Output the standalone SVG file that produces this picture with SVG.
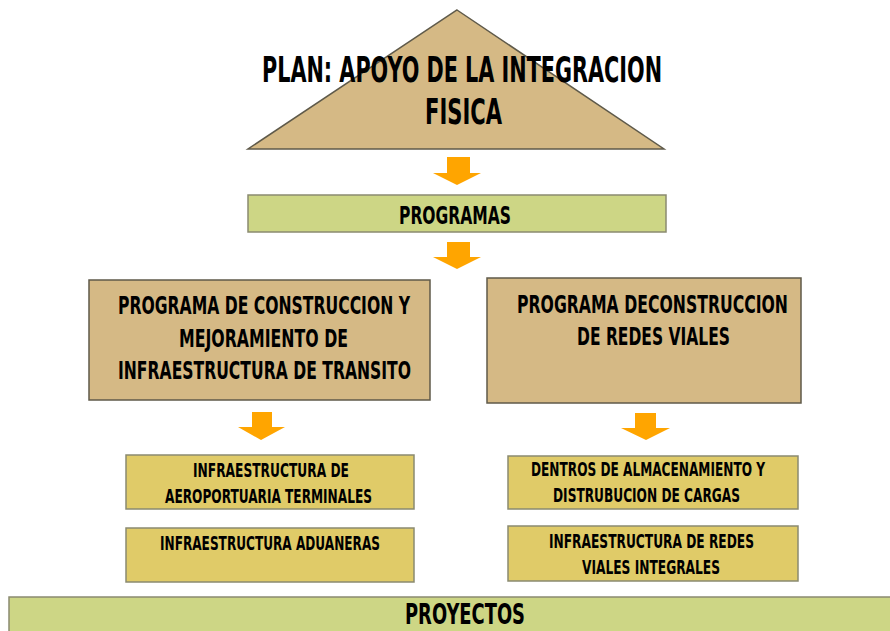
<svg xmlns="http://www.w3.org/2000/svg" width="890" height="631" viewBox="0 0 890 631">
<style>
.t{font-family:"DejaVu Sans Condensed","DejaVu Sans","Liberation Sans",sans-serif;font-weight:bold;fill:#000}
.tan{fill:#d5b985;stroke:#5f5a4a;stroke-width:1.5}
.grn{fill:#cdd685;stroke:#8a8a70;stroke-width:1.5}
.yel{fill:#e0cb68;stroke:#8a8a70;stroke-width:1.5}
.arr{fill:#ffa500}
</style>
<rect width="890" height="631" fill="#fff"/>
<g id="plan">
<polygon class="tan" points="457,10 664,149 248,149" stroke="#222" stroke-width="1.2"/>
<text class="t" x="262" y="82" font-size="35" textLength="400" lengthAdjust="spacingAndGlyphs">PLAN: APOYO DE LA INTEGRACION</text>
<text class="t" x="425" y="124" font-size="35" textLength="77" lengthAdjust="spacingAndGlyphs">FISICA</text>
</g>
<g id="connectors">
<polygon class="arr" points="447,157 470,157 470,173 481,173 457,185 433,173 447,173"/>
<polygon class="arr" points="447,242 470,242 470,257 481,257 457,269 433,257 447,257"/>
<polygon class="arr" points="252,412 272,412 272,427 285,427 261,440 238,427 252,427"/>
<polygon class="arr" points="635,413 656,413 656,428 670,428 646,440 621,428 635,428"/>
</g>
<g id="programas">
<rect class="grn" x="248" y="195" width="418" height="37"/>
<text class="t" x="399" y="224" font-size="24" textLength="112" lengthAdjust="spacingAndGlyphs">PROGRAMAS</text>
</g>
<g id="prog-transito">
<rect class="tan" x="89" y="280" width="341" height="120"/>
<text class="t" x="118" y="314" font-size="24" textLength="292" lengthAdjust="spacingAndGlyphs">PROGRAMA DE CONSTRUCCION Y</text>
<text class="t" x="179" y="347" font-size="24" textLength="169" lengthAdjust="spacingAndGlyphs">MEJORAMIENTO DE</text>
<text class="t" x="118" y="379" font-size="24" textLength="293" lengthAdjust="spacingAndGlyphs">INFRAESTRUCTURA DE TRANSITO</text>
</g>
<g id="prog-redes">
<rect class="tan" x="487" y="278" width="314" height="125"/>
<text class="t" x="517" y="313" font-size="24" textLength="271" lengthAdjust="spacingAndGlyphs">PROGRAMA DECONSTRUCCION</text>
<text class="t" x="577" y="345" font-size="24" textLength="153" lengthAdjust="spacingAndGlyphs">DE REDES VIALES</text>
</g>
<g id="aeroportuaria">
<rect class="yel" x="126" y="455" width="288" height="54"/>
<text class="t" x="193" y="477" font-size="20" textLength="156" lengthAdjust="spacingAndGlyphs">INFRAESTRUCTURA DE</text>
<text class="t" x="165" y="503" font-size="20" textLength="207" lengthAdjust="spacingAndGlyphs">AEROPORTUARIA TERMINALES</text>
</g>
<g id="aduaneras">
<rect class="yel" x="126" y="528" width="288" height="54"/>
<text class="t" x="160" y="550" font-size="20" textLength="220" lengthAdjust="spacingAndGlyphs">INFRAESTRUCTURA ADUANERAS</text>
</g>
<g id="almacenamiento">
<rect class="yel" x="508" y="456" width="290" height="53"/>
<text class="t" x="531" y="476" font-size="20" textLength="234" lengthAdjust="spacingAndGlyphs">DENTROS DE ALMACENAMIENTO Y</text>
<text class="t" x="553" y="502" font-size="20" textLength="187" lengthAdjust="spacingAndGlyphs">DISTRUBUCION DE CARGAS</text>
</g>
<g id="redes-viales">
<rect class="yel" x="508" y="526" width="290" height="55"/>
<text class="t" x="549" y="548" font-size="20" textLength="205" lengthAdjust="spacingAndGlyphs">INFRAESTRUCTURA DE REDES</text>
<text class="t" x="582" y="574" font-size="20" textLength="138" lengthAdjust="spacingAndGlyphs">VIALES INTEGRALES</text>
</g>
<g id="proyectos">
<rect class="grn" x="9" y="597" width="890" height="50" stroke="#6b6b50"/>
<text class="t" x="405" y="624" font-size="29" textLength="120" lengthAdjust="spacingAndGlyphs">PROYECTOS</text>
</g>
</svg>
